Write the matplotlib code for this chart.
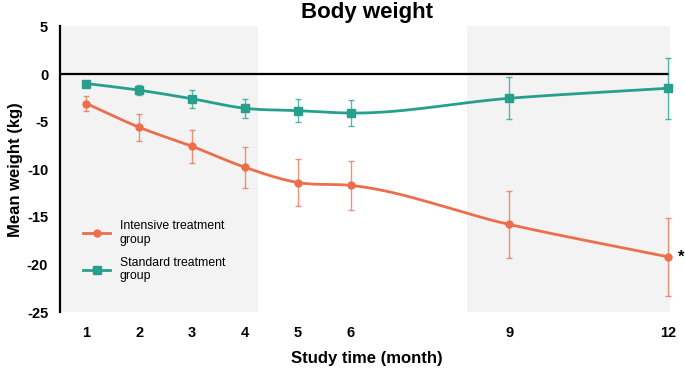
import matplotlib.pyplot as plt
import numpy as np

plt.rcParams['font.family'] = ['Liberation Sans', 'DejaVu Sans']
plt.rcParams['axes.unicode_minus'] = False

months = [1, 2, 3, 4, 5, 6, 9, 12]
intensive = [-3.1, -5.6, -7.6, -9.8, -11.4, -11.7, -15.8, -19.2]
intensive_err = [0.8, 1.4, 1.7, 2.15, 2.45, 2.6, 3.5, 4.1]
standard = [-1.0, -1.7, -2.6, -3.6, -3.85, -4.1, -2.55, -1.5]
standard_err = [0.2, 0.5, 0.95, 1.0, 1.2, 1.35, 2.2, 3.2]

orange = "#EC6E4C"
teal = "#26A08C"


def smooth(x, y, n=40):
    # cubic hermite curve through the points, only used to draw the line
    x = np.asarray(x, float)
    y = np.asarray(y, float)
    h = np.diff(x)
    d = np.diff(y) / h
    m = np.empty_like(y)
    m[0], m[-1] = d[0], d[-1]
    m[1:-1] = (h[1:] * d[:-1] + h[:-1] * d[1:]) / (h[:-1] + h[1:])
    xs, ys = [], []
    t = np.linspace(0, 1, n)
    for i in range(len(h)):
        h00 = 2 * t**3 - 3 * t**2 + 1
        h10 = t**3 - 2 * t**2 + t
        h01 = -2 * t**3 + 3 * t**2
        h11 = t**3 - t**2
        xs.extend(x[i] + t * h[i])
        ys.extend(h00 * y[i] + h10 * h[i] * m[i] + h01 * y[i + 1] + h11 * h[i] * m[i + 1])
    return xs, ys


fig = plt.figure(figsize=(6.85, 3.73), dpi=100)
ax = fig.add_axes([0.0876, 0.1635, 0.895, 0.7657])

ax.axvspan(0.5, 4.24, color="#f3f3f3", zorder=0, lw=0)
ax.axvspan(8.2, 12.04, color="#f3f3f3", zorder=0, lw=0)
ax.plot([0.5, 12.0], [0, 0], color="black", lw=1.6, zorder=1)

for y, e, c, m, ms, lab in [(intensive, intensive_err, orange, "o", 5, "Intensive treatment\ngroup"),
                            (standard, standard_err, teal, "s", 6, "Standard treatment\ngroup")]:
    ax.errorbar(months, y, yerr=e, fmt="none", ecolor=c, elinewidth=1.0,
                capsize=2.5, capthick=1.0, alpha=0.75, zorder=2)
    sx, sy = smooth(months, y)
    ax.plot(sx, sy, color=c, lw=2, zorder=3)
    ax.plot(months, y, marker=m, ms=ms, color=c, lw=2, ls="none", zorder=4)
    ax.plot([], [], color=c, lw=2, marker=m, ms=ms, label=lab)

ax.text(12.2, intensive[-1], "*", fontsize=12, fontweight="bold", va="center", ha="left")

ax.set_xlim(0.5, 12.1)
ax.set_ylim(-25, 5)
ax.set_xticks(months)
ax.set_yticks([5, 0, -5, -10, -15, -20, -25])
ax.tick_params(axis="both", length=0, labelsize=10.5)
ax.tick_params(axis="x", pad=10)
ax.tick_params(axis="y", pad=8.5)
for t in ax.get_xticklabels() + ax.get_yticklabels():
    t.set_fontweight("bold")

for s in ["top", "right", "bottom"]:
    ax.spines[s].set_visible(False)
ax.spines["left"].set_linewidth(1.6)

ax.set_title("Body weight", fontsize=16, fontweight="bold", pad=6)
ax.set_xlabel("Study time (month)", fontsize=12, fontweight="bold", labelpad=8)
ax.set_ylabel("Mean weight (kg)", fontsize=12, fontweight="bold", labelpad=3)

ax.legend(loc="lower left", bbox_to_anchor=(0.02, 0.065), frameon=False,
          fontsize=8.8, handlelength=2.2, labelspacing=0.9)

fig.savefig("out.png", dpi=100)
